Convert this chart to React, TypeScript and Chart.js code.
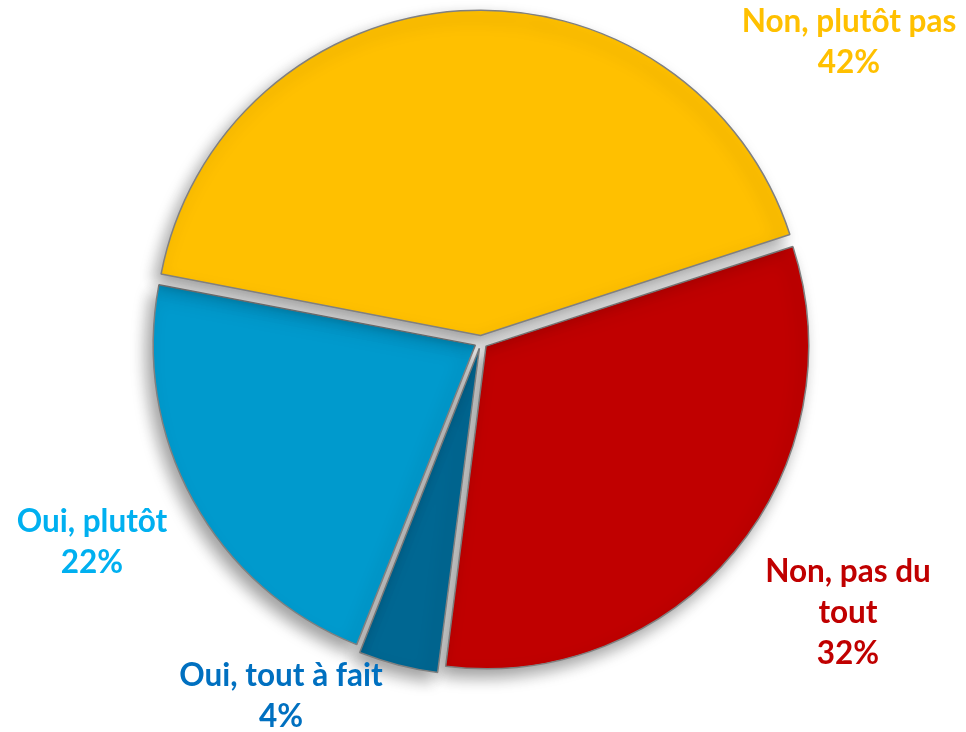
import React, { useEffect, useRef } from "react";
import { Chart, registerables } from "chart.js";

Chart.register(...registerables);

const categories = ["Non, pas du tout", "Oui, tout à fait", "Oui, plutôt", "Non, plutôt pas"];
const values = [32, 4, 22, 42];
const sliceColors = ["#C00000", "#006792", "#009ACD", "#FFC000"];
const labelColors = ["#C00000", "#0070C0", "#00B0F0", "#FFC000"];
const labelLines = [["Non, pas du", "tout", "32%"], ["Oui, tout à fait", "4%"], ["Oui, plutôt", "22%"], ["Non, plutôt pas", "42%"]];
// label anchor (center x, first line y) in canvas pixels
const labelAnchors = [[848, 572], [281, 676], [92, 522], [849, 22]];

const shadowPlugin = {
  id: "shadow",
  beforeDatasetsDraw(chart: any) {
    const ctx = chart.ctx;
    ctx.save();
    ctx.shadowColor = "rgba(0,0,0,0.38)";
    ctx.shadowBlur = 16;
    ctx.shadowOffsetX = -6;
    ctx.shadowOffsetY = 8;
  },
  afterDatasetsDraw(chart: any) {
    chart.ctx.restore();
  },
};

const labelPlugin = {
  id: "outLabels",
  afterDraw(chart: any) {
    const ctx = chart.ctx;
    ctx.save();
    ctx.font = "bold 31.5px Lato, 'Open Sans', sans-serif";
    ctx.textAlign = "center";
    ctx.textBaseline = "middle";
    labelLines.forEach((lines, i) => {
      ctx.fillStyle = labelColors[i];
      const [x, y] = labelAnchors[i];
      lines.forEach((t, j) => ctx.fillText(t, x, y + j * 41));
    });
    ctx.restore();
  },
};

export default function App() {
  const ref = useRef<HTMLCanvasElement>(null);
  useEffect(() => {
    const chart = new Chart(ref.current!, {
      type: "pie",
      data: {
        labels: categories,
        datasets: [
          {
            data: values,
            backgroundColor: sliceColors,
            borderColor: "#808080",
            borderWidth: 1.5,
            offset: 26,
          },
        ],
      },
      options: {
        responsive: false,
        animation: false,
        rotation: 72,
        radius: 322,
        layout: { padding: { left: 0, right: 4, top: 0, bottom: 48 } },
        plugins: { legend: { display: false }, tooltip: { enabled: false } },
      },
      plugins: [shadowPlugin, labelPlugin],
    });
    return () => chart.destroy();
  }, []);
  return (
    <div style={{ position: "fixed", left: 0, top: 0, width: 966, height: 732, background: "#fff" }}>
      <canvas ref={ref} width={966} height={732} />
    </div>
  );
}
